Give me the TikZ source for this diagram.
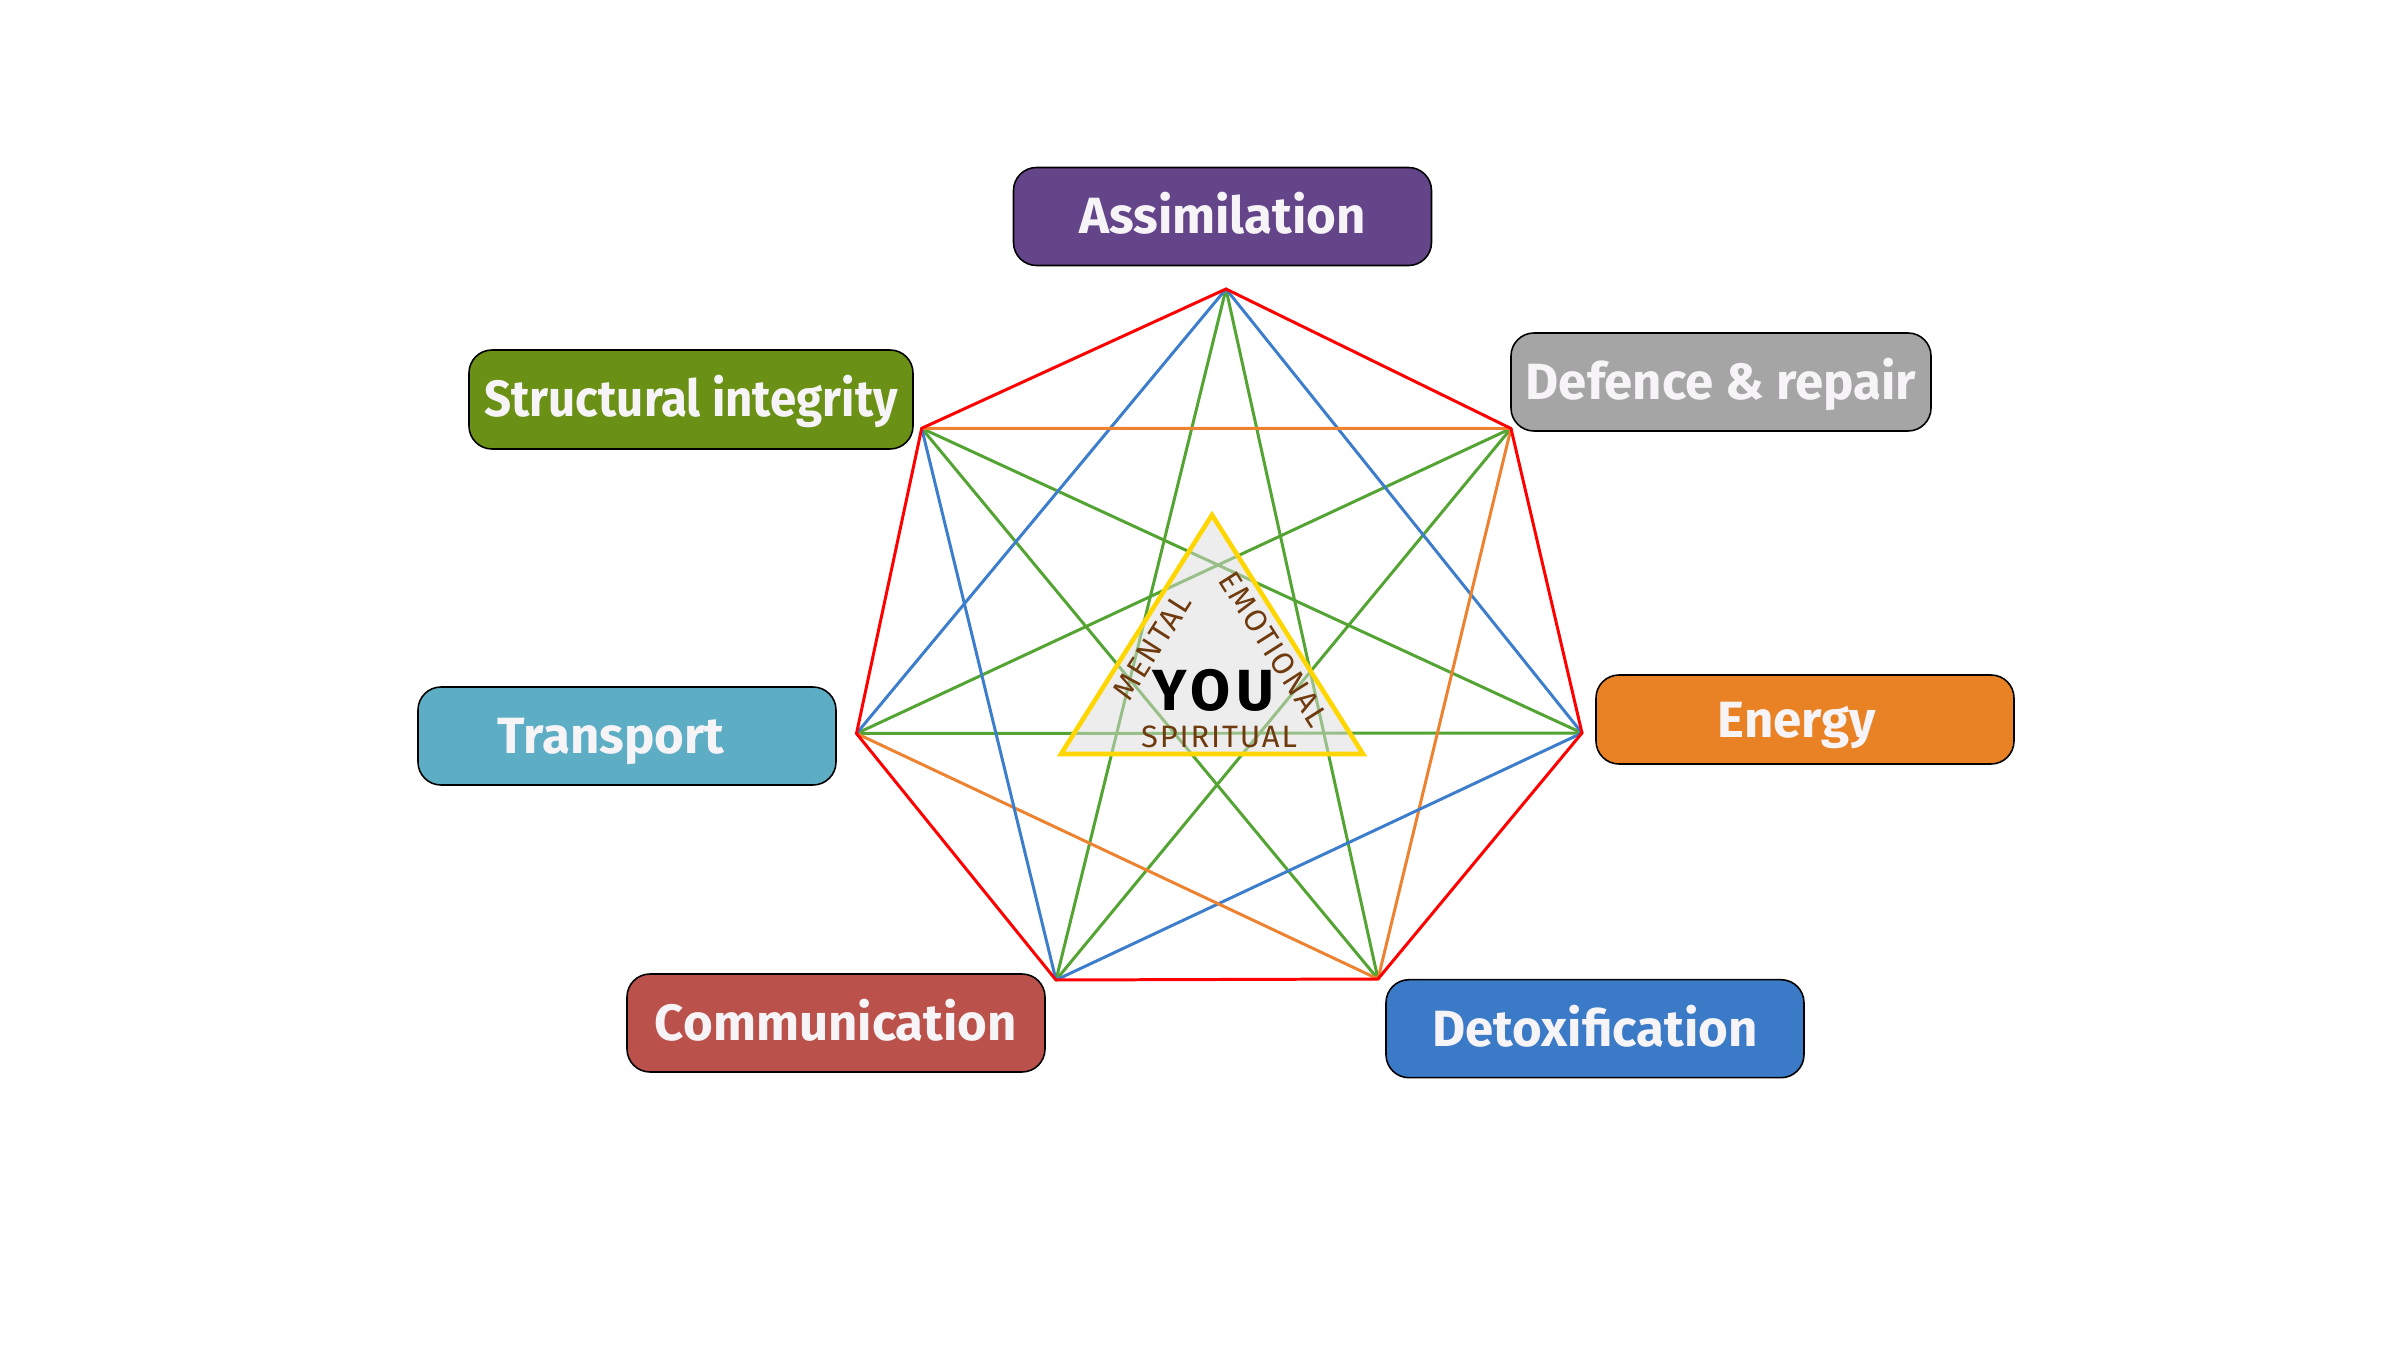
\documentclass[tikz,border=0pt]{standalone}
\usepackage{fontspec}
\setmainfont{Fira Sans}
\definecolor{cPurple}{RGB}{101,69,137}
\definecolor{cGray}{RGB}{165,165,165}
\definecolor{cOrange}{RGB}{232,130,37}
\definecolor{cBlue}{RGB}{58,122,198}
\definecolor{cRed}{RGB}{187,81,75}
\definecolor{cTeal}{RGB}{93,174,196}
\definecolor{cGreen}{RGB}{106,145,22}
\definecolor{lRed}{RGB}{255,0,0}
\definecolor{lBlue}{RGB}{61,126,204}
\definecolor{lOrange}{RGB}{237,130,48}
\definecolor{lGreen}{RGB}{84,164,52}
\definecolor{triFill}{RGB}{219,219,219}
\definecolor{triLine}{RGB}{255,214,0}
\definecolor{brownTxt}{RGB}{110,58,14}
\definecolor{txtWhite}{RGB}{246,244,246}
\begin{document}
\begin{tikzpicture}[x=0.1mm,y=-0.1mm,
  labelbox/.style={draw=black, line width=0.45pt, rounded corners=2.3mm,
    minimum width=41.8mm, minimum height=9.8mm, inner sep=0pt,
    text height=4.7mm, text depth=1.2mm,
    text=txtWhite, font=\fontsize{14.5}{16}\selectfont\bfseries},
  ln/.style={line width=0.85pt, line cap=round},
  edge/.style={ln, lRed},
  skipb/.style={ln, lBlue},
  skipo/.style={ln, lOrange},
  skipg/.style={ln, lGreen},
  side/.style={text=brownTxt, font=\fontsize{8.8}{10}\selectfont\addfontfeatures{LetterSpace=6}, inner sep=0pt}
]
\useasboundingbox (0,0) rectangle (2401,1350);

% heptagon vertices
\coordinate (v0) at (1226,289);
\coordinate (v1) at (1511,428.5);
\coordinate (v2) at (1582,733);
\coordinate (v3) at (1378,979);
\coordinate (v4) at (1056,980);
\coordinate (v5) at (856.5,733.5);
\coordinate (v6) at (921.7,428.3);

% green (skip 2)
\draw[skipg] (v0) -- (v3);
\draw[skipg] (v0) -- (v4);
\draw[skipg] (v1) -- (v4);
\draw[skipg] (v1) -- (v5);
\draw[skipg] (v2) -- (v5);
\draw[skipg] (v2) -- (v6);
\draw[skipg] (v3) -- (v6);
% skip 1
\draw[skipb] (v0) -- (v2);
\draw[skipo] (v1) -- (v3);
\draw[skipb] (v2) -- (v4);
\draw[skipo] (v3) -- (v5);
\draw[skipb] (v4) -- (v6);
\draw[skipb] (v5) -- (v0);
\draw[skipo] (v6) -- (v1);
% outer edges
\draw[edge] (v0) -- (v1);
\draw[edge] (v1) -- (v2);
\draw[edge] (v2) -- (v3);
\draw[edge] (v3) -- (v4);
\draw[edge] (v4) -- (v5);
\draw[edge] (v5) -- (v6);
\draw[edge] (v6) -- (v0);

% central triangle
\coordinate (ta) at (1212,515);
\coordinate (tb) at (1061,754);
\coordinate (tc) at (1363,754);
\fill[triFill, fill opacity=0.5] (ta) -- (tb) -- (tc) -- cycle;
\draw[triLine, line width=1.3pt] (ta) -- (tb) -- (tc) -- cycle;

\node[inner sep=0pt, font=\fontsize{16.5}{18}\selectfont\bfseries\addfontfeatures{LetterSpace=10}] (you) at (1213,690) {YOU};
\node[side] (spir) at (1219,737) {SPIRITUAL};
\node[side, rotate=57.6] (ment) at (1152,647) {MENTAL};
\node[side, rotate=-57.6] (emot) at (1274,649) {EMOTIONAL};

% label boxes
\node[labelbox, fill=cPurple] (assim) at (1222.5,216.5) {Assimilation};
\node[labelbox, fill=cGray, minimum width=42mm] (def) at (1721,382) {Defence \& repair};
\node[labelbox, fill=cOrange, minimum height=8.9mm] (energy) at (1805,719.5) {Energy\hspace*{1.6mm}};
\node[labelbox, fill=cBlue] (detox) at (1595,1028.7) {Detoxification};
\node[labelbox, fill=cRed] (comm) at (836,1023) {Communication};
\node[labelbox, fill=cTeal] (trans) at (627,736) {Transport\hspace*{3.2mm}};
\node[labelbox, fill=cGreen, minimum width=44.4mm, minimum height=9.9mm,
  font=\fontsize{14.5}{16}\selectfont\bfseries\addfontfeatures{FakeStretch=0.93}] (struct) at (691,399.5) {Structural integrity};
\end{tikzpicture}
\end{document}
